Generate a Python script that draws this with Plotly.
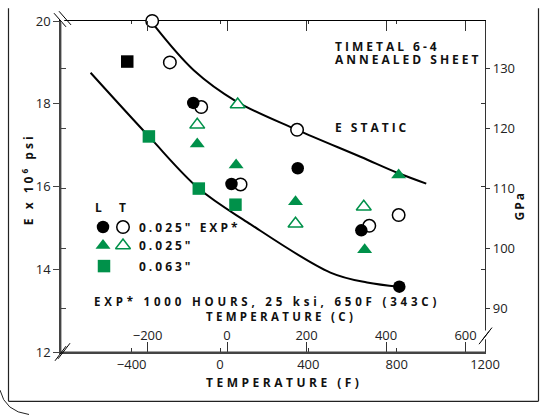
import plotly.graph_objects as go

# ---- figure geometry (pixels) ----
W, H = 540, 416
ML, MR, MT, MB = 61, 55, 13, 64
PW, PH = W - ML - MR, H - MT - MB

GPA_PER_MSI = 6.894757

# ---- axes ----
F_RANGE = [-720, 1200]
E_RANGE = [12, 20]
C_RANGE = [(f - 32) / 1.8 for f in F_RANGE]
GPA_RANGE = [e * GPA_PER_MSI for e in E_RANGE]

F_TICKS = [-400, 0, 400, 800, 1200]
C_TICKS = [-200, 0, 200, 400, 600]
E_TICKS = [12, 14, 16, 18, 20]
GPA_TICKS = [90, 100, 110, 120, 130]

# ---- data: temperature (F) vs modulus (10^6 psi) ----
# 0.025" exposed sheet, longitudinal (filled) and transverse (open)
exp_L_temp = [-121, 52, 352, 640, 812]
exp_L_mod = [18.02, 16.06, 16.44, 14.94, 13.58]
exp_T_temp = [-307, -227, -85, 93, 349, 676, 809]
exp_T_mod = [20.0, 19.0, 17.92, 16.05, 17.37, 15.05, 15.31]

# 0.025" sheet, longitudinal (filled) and transverse (open)
s025_L_temp = [-103, 73, 342, 655, 809]
s025_L_mod = [17.03, 16.52, 15.63, 14.47, 16.28]
s025_T_temp = [-103, 80, 342, 651]
s025_T_mod = [17.49, 17.98, 15.10, 15.51]

# 0.063" sheet
s063_temp = [-322, -96, 70]
s063_mod = [17.21, 15.95, 15.56]

# single black square reading
ref_temp = [-420]
ref_mod = [19.02]

# fitted curves
static_temp = [-296, -119, 73, 349, 636, 809, 934]
static_mod = [19.88, 18.81, 18.06, 17.37, 16.72, 16.32, 16.07]
exp_curve_temp = [-586, -322, -96, 123, 500, 666, 812]
exp_curve_mod = [18.75, 17.21, 15.95, 15.14, 13.92, 13.68, 13.58]

GREEN = "#00914a"
INK = "#111111"
FONT = "Open Sans"


def px(x, y):
    """pixel position -> paper coordinates"""
    return (x - ML) / PW, (MT + PH - y) / PH


def spaced(text, ls=3):
    return f'<span style="letter-spacing:{ls}px">{text}</span>'


fig = go.Figure()

# curves
for cx, cy in [(static_temp, static_mod), (exp_curve_temp, exp_curve_mod)]:
    fig.add_trace(go.Scatter(x=cx, y=cy, mode="lines",
                             line=dict(color="black", width=2, shape="spline", smoothing=1.0),
                             hoverinfo="skip", showlegend=False))


def pts(x, y, symbol, size, fill, edge, lw=0):
    fig.add_trace(go.Scatter(x=x, y=y, mode="markers", cliponaxis=False,
                             marker=dict(symbol=symbol, size=size, color=fill, opacity=1,
                                         line=dict(color=edge, width=lw)),
                             showlegend=False))


pts(exp_T_temp, exp_T_mod, "circle", 12.5, "white", "black", 1.5)
pts(s025_T_temp, s025_T_mod, "triangle-up", 13, "white", GREEN, 1.5)
pts(exp_L_temp, exp_L_mod, "circle", 12.5, "black", "black")
pts(s025_L_temp, s025_L_mod, "triangle-up", 13, GREEN, GREEN)
pts(s063_temp, s063_mod, "square", 12.5, GREEN, GREEN)
pts(ref_temp, ref_mod, "square", 12.5, "black", "black")

# legend keys, placed in plot-area pixels on the main axes' own scale
key_px_x = [103, 123, 103, 123, 104]
key_px_y = [224, 224, 243, 243, 264]
key_sym = ["circle", "circle", "triangle-up", "triangle-up", "square"]
key_fill = ["black", "white", GREEN, "white", GREEN]
key_edge = ["black", "black", GREEN, GREEN, GREEN]
key_lw = [0, 1.5, 0, 1.5, 0]
key_size = [12.5, 12.5, 13, 13, 12.5]
key_x = [F_RANGE[0] + (p - ML) / PW * (F_RANGE[1] - F_RANGE[0]) for p in key_px_x]
key_y = [E_RANGE[0] + (MT + PH - p) / PH * (E_RANGE[1] - E_RANGE[0]) for p in key_px_y]
fig.add_trace(go.Scatter(x=key_x, y=key_y, mode="markers",
                         marker=dict(symbol=key_sym, size=key_size, color=key_fill, opacity=1,
                                     line=dict(color=key_edge, width=key_lw)),
                         showlegend=False, hoverinfo="skip"))

# empty traces so every overlay axis gets drawn
for xa, ya in [("x2", "y"), ("x3", "y"), ("x4", "y"), ("x6", "y"),
               ("x", "y2"), ("x", "y3"), ("x", "y4")]:
    fig.add_trace(go.Scatter(x=[None], y=[None], xaxis=xa, yaxis=ya,
                             showlegend=False, hoverinfo="skip"))

tickfont = dict(family=FONT, size=13, color="#222")
base = dict(showgrid=False, zeroline=False, fixedrange=True)

fig.update_layout(
    width=W, height=H,
    margin=dict(l=ML, r=MR, t=MT, b=MB),
    paper_bgcolor="white", plot_bgcolor="rgba(0,0,0,0)",
    showlegend=False,
    # Fahrenheit scale along the bottom
    xaxis=dict(**base, range=F_RANGE, tickvals=F_TICKS, ticks="inside", ticklen=4,
               tickcolor="#333", showline=True, linecolor="#444", linewidth=1.6,
               tickfont=tickfont),
    # Celsius ticks along the bottom
    xaxis2=dict(**base, range=C_RANGE, tickvals=C_TICKS, ticks="inside", ticklen=10,
                tickcolor="#333", overlaying="x", anchor="y", side="bottom",
                showticklabels=False, showline=False),
    # Celsius labels sitting just above the long ticks
    xaxis6=dict(**base, range=C_RANGE, tickvals=C_TICKS, ticks="", overlaying="x",
                anchor="free", position=10 / PH, side="top", showline=False,
                tickfont=tickfont),
    # mirrored ticks along the top
    xaxis3=dict(**base, range=F_RANGE, tickvals=F_TICKS[:-1], ticks="inside", ticklen=3,
                tickcolor="#333", overlaying="x", anchor="y", side="top",
                showticklabels=False, showline=True, linecolor="black", linewidth=1,
                layer="below traces"),
    xaxis4=dict(**base, range=C_RANGE, tickvals=C_TICKS, ticks="inside", ticklen=10,
                tickcolor="#333", overlaying="x", anchor="y", side="top",
                showticklabels=False, showline=False),
    # modulus, 10^6 psi (left) and GPa (right)
    yaxis=dict(**base, range=E_RANGE, tickvals=E_TICKS, ticks="outside", ticklen=6,
               tickcolor="#444", showline=True, linecolor="#444", linewidth=1.6,
               tickfont=tickfont),
    yaxis2=dict(**base, range=GPA_RANGE, tickvals=GPA_TICKS, ticks="outside", ticklen=4,
                tickcolor="#333", overlaying="y", anchor="x", side="right",
                showline=True, linecolor="#333", linewidth=1.3, tickfont=tickfont),
    yaxis3=dict(**base, range=GPA_RANGE, tickvals=GPA_TICKS, ticks="inside", ticklen=5,
                tickcolor="#444", overlaying="y", anchor="x", side="left",
                showticklabels=False, showline=False),
    yaxis4=dict(**base, range=E_RANGE, tickvals=E_TICKS[1:-1], ticks="inside", ticklen=4,
                tickcolor="#333", overlaying="y", anchor="x", side="right",
                showticklabels=False, showline=False),
)


# ---- text ----
def label(text, x, y, xanchor="center", angle=0, ls=3, size=12):
    xp, yp = px(x, y)
    fig.add_annotation(text=f"<b>{spaced(text, ls)}</b>", x=xp, y=yp, xref="paper", yref="paper",
                       xanchor=xanchor, yanchor="middle", showarrow=False, textangle=angle,
                       font=dict(family=FONT, size=size, color=INK))


label("TIMETAL 6-4", 333, 39, "left")
label("ANNEALED SHEET", 333, 52, "left")
label("E STATIC", 333, 122, "left")
label("L", 98, 204, ls=0)
label("T", 122, 204, ls=0)
label('0.025" EXP*', 137, 224, "left")
label('0.025"', 137, 243, "left")
label('0.063"', 137, 264, "left")
label("EXP* 1000 HOURS, 25 ksi, 650F (343C)", 267, 300, ls=3.8, size=11.5)
label("TEMPERATURE (C)", 281, 316, ls=3.3, size=11.5)
label("TEMPERATURE (F)", 284, 383, ls=3.5)
label("E x 10<sup>6</sup> psi", 28, 175, angle=-90, ls=3)
label("GPa", 520, 203, angle=-90, ls=2)


# ---- decorations: axis lines, breaks and page frame ----
def seg(x0, y0, x1, y1, color="black", width=1):
    a, b = px(x0, y0)
    c, d = px(x1, y1)
    fig.add_shape(type="line", xref="paper", yref="paper", x0=a, y0=b, x1=c, y1=d,
                  line=dict(color=color, width=width), layer="above")


# left and bottom axis lines
seg(ML - 0.5, MT + 2, ML - 0.5, MT + PH + 0.5, "#444", 1.8)
seg(ML - 0.5, MT + PH + 0.5, ML + PW, MT + PH + 0.5, "#444", 1.8)

# top-left break
seg(55, 4, 67, 18, "white", 3)
seg(54, 5, 66, 19)
seg(59, 3, 71, 17)
# bottom-left break
seg(55, 361, 66, 346)
seg(58, 359, 70, 343)
# right axis break
seg(485, 330, 485, 339, "white", 3)
seg(479, 344, 489, 331)
seg(482, 340, 492, 327)

# page frame
seg(8.5, 0, 8.5, 402.5, "#222", 1.2)
seg(8.5, 402.5, 538.5, 402.5, "#222", 1.2)
seg(538.5, 0, 538.5, 402.5, "#222", 1.2)
p0 = px(0, 391)
p1 = px(5, 413)
p2 = px(29, 416)
fig.add_shape(type="path", xref="paper", yref="paper", layer="above",
              path=f"M {p0[0]},{p0[1]} Q {p1[0]},{p1[1]} {p2[0]},{p2[1]}",
              line=dict(color="#222", width=1))

fig.write_html("out.html")
